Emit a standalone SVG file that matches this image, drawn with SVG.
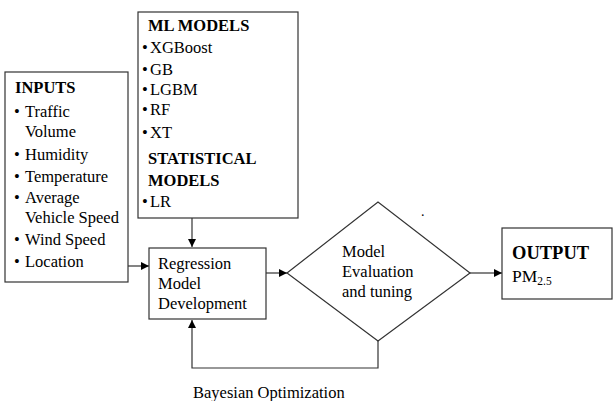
<svg xmlns="http://www.w3.org/2000/svg" width="613" height="401" viewBox="0 0 613 401">
<style>
  text { font-family: "Liberation Serif", "Times New Roman", serif; font-size: 16.5px; fill: #000; }
  .b { font-weight: bold; }
  .box { fill: #fff; stroke: #333; stroke-width: 1.2; }
  .ln { fill: none; stroke: #333; stroke-width: 1.2; }
</style>
<defs>
  <marker id="ah" viewBox="0 0 10 10" refX="10" refY="5" markerWidth="8" markerHeight="8" markerUnits="userSpaceOnUse" orient="auto">
    <path d="M0,0 L10,5 L0,10 Z" fill="#000"/>
  </marker>
</defs>
<rect width="613" height="401" fill="#fff"/>
<g id="connectors">
  <path class="ln" d="M128,266 L149,266" marker-end="url(#ah)"/>
  <path class="ln" d="M192,218 L192,247" marker-end="url(#ah)"/>
  <path class="ln" d="M266,273 L287,273" marker-end="url(#ah)"/>
  <path class="ln" d="M470,273 L502,273" marker-end="url(#ah)"/>
  <path class="ln" d="M378,341 L378,368 L192,368 L192,320" marker-end="url(#ah)"/>
</g>
<g id="inputs">
  <rect class="box" x="5" y="72" width="123" height="210"/>
  <text class="b" x="15" y="93">INPUTS</text>
  <text x="14" y="117">•</text><text x="25" y="117">Traffic</text>
  <text x="25" y="137">Volume</text>
  <text x="14" y="160">•</text><text x="25" y="160">Humidity</text>
  <text x="14" y="182">•</text><text x="25" y="182">Temperature</text>
  <text x="14" y="203">•</text><text x="25" y="203">Average</text>
  <text x="25" y="223">Vehicle Speed</text>
  <text x="14" y="245">•</text><text x="25" y="245">Wind Speed</text>
  <text x="14" y="267">•</text><text x="25" y="267">Location</text>
</g>
<g id="models">
  <rect class="box" x="138" y="12" width="160" height="206"/>
  <text class="b" x="148" y="31">ML MODELS</text>
  <text x="142" y="53">•</text><text x="150" y="53">XGBoost</text>
  <text x="142" y="75">•</text><text x="150" y="75">GB</text>
  <text x="142" y="95">•</text><text x="150" y="95">LGBM</text>
  <text x="142" y="115">•</text><text x="150" y="115">RF</text>
  <text x="142" y="138">•</text><text x="150" y="138">XT</text>
  <text class="b" x="148" y="164">STATISTICAL</text>
  <text class="b" x="148" y="186">MODELS</text>
  <text x="142" y="207">•</text><text x="150" y="207">LR</text>
</g>
<g id="regression">
  <rect class="box" x="149" y="248" width="117" height="71"/>
  <text x="158" y="269">Regression</text>
  <text x="158" y="289">Model</text>
  <text x="158" y="309">Development</text>
</g>
<g id="evaluation">
  <polygon class="box" points="287,273 378,202 470,273 378,341"/>
  <text x="342" y="257">Model</text>
  <text x="342" y="277">Evaluation</text>
  <text x="342" y="297">and tuning</text>
</g>
<g id="output">
  <rect class="box" x="502" y="228" width="110" height="71"/>
  <text class="b" x="512" y="259" style="font-size:18.5px">OUTPUT</text>
  <text x="512" y="282" style="font-size:17.5px">PM<tspan style="font-size:11.5px" dy="3">2.5</tspan></text>
</g>
<text x="421" y="216" style="font-size:14px">.</text>
<text x="193" y="398">Bayesian Optimization</text>
</svg>
